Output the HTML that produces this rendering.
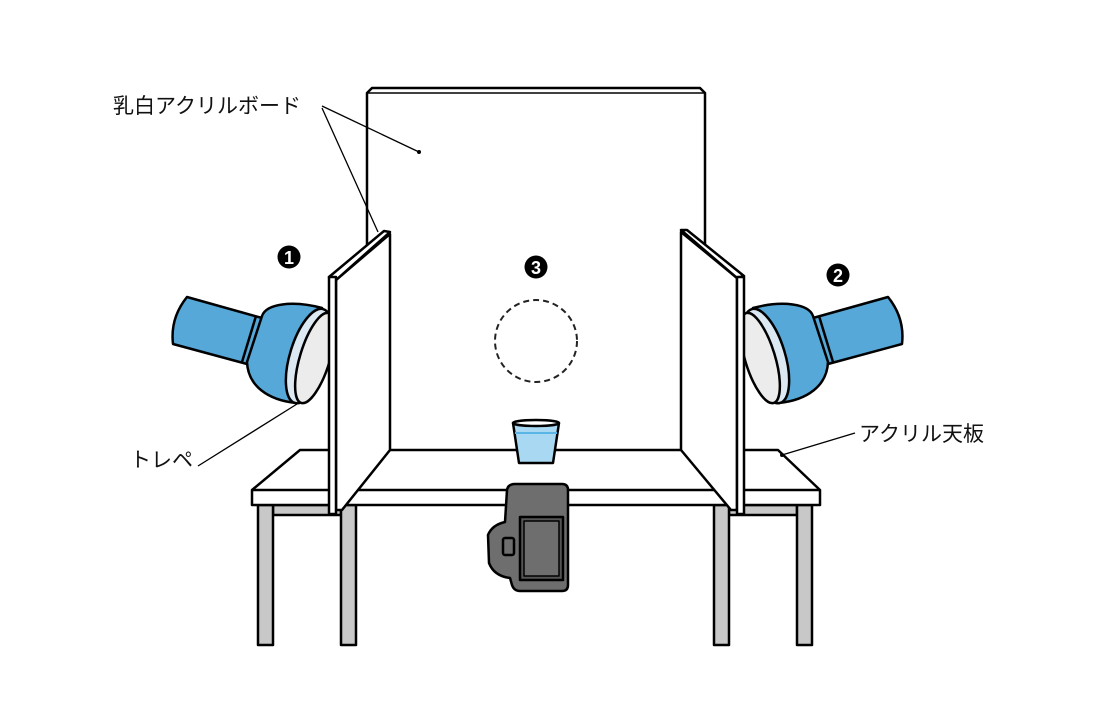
<!DOCTYPE html>
<html><head><meta charset="utf-8"><style>
html,body{margin:0;padding:0;background:#fff;}
svg{display:block;}
text{font-family:"Liberation Sans","Noto Sans CJK JP",sans-serif;font-size:21px;fill:#111;}
</style></head><body>
<svg width="1100" height="710" viewBox="0 0 1100 710" xmlns="http://www.w3.org/2000/svg">
<g stroke="#000" stroke-width="2.5" stroke-linejoin="round">
<rect x="273" y="505" width="68" height="10" fill="#c8c8c8"/>
<rect x="729" y="505" width="68" height="10" fill="#c8c8c8"/>
<rect x="258" y="505" width="15" height="140" fill="#c8c8c8"/>
<rect x="341" y="505" width="15" height="140" fill="#c8c8c8"/>
<rect x="714" y="505" width="15" height="140" fill="#c8c8c8"/>
<rect x="797" y="505" width="15" height="140" fill="#c8c8c8"/>
<path d="M367,450 L367,93 L372,88 L700,88 L705,93 L705,450" fill="#fff"/>
<line x1="367" y1="93" x2="705" y2="93" stroke-width="1.5"/>
<path d="M300,450 L778,450 L820,490 L820,505 L252,505 L252,490 Z" fill="#fff"/>
<line x1="252" y1="490" x2="820" y2="490"/>
<path d="M513,423 L559,423 L553,463 L519,463 Z" fill="#a9d8f2"/>
<path d="M515,433 L557,433" stroke="#5bb4e6" stroke-width="2"/>
<ellipse cx="536" cy="423" rx="23" ry="3" fill="#fff"/>
<path d="M507,490 Q508,484 515,484 L562,484 Q568,484 568,490 L568,585 Q568,591 562,591 L520,591 Q514,591 512,585 L510,578 Q494,576 489,563 L488,535 Q492,525 505,522 Z" fill="#6e6e6e"/>
<rect x="520" y="517" width="43" height="63" fill="#555"/>
<rect x="524" y="521" width="35" height="55" fill="#6e6e6e" stroke-width="1.5"/>
<rect x="503" y="538" width="11" height="17" rx="2" fill="#6e6e6e"/>
<g id="lamp">
<path d="M187,297 L262,318 L247,364 L173,344 Q170,318 187,297 Z" fill="#55a8d8"/>
<path d="M256,316 L242,362" />
<path d="M262,316 C266,304 292,300 322,308 L296,403 C268,400 248,386 247,362 Z" fill="#55a8d8"/>
<ellipse cx="309" cy="356" rx="19" ry="49" transform="rotate(17 309 356)" fill="#dce8f2"/>
<ellipse cx="315" cy="358" rx="15" ry="47" transform="rotate(17 315 358)" fill="#ececec"/>
</g>
<use href="#lamp" transform="translate(1075,0) scale(-1,1)"/>
<path d="M336,280 L390,234 L390,450 L342,510 L336,510 Z" fill="#fff"/>
<path d="M329,277 L384,231 L390,232 L336,280 Z" fill="#fff"/>
<rect x="329" y="277" width="7" height="237" fill="#fff"/>
<path d="M681,232 L737,278 L737,510 L731,510 L681,450 Z" fill="#fff"/>
<path d="M681,230 L687,230 L744,276 L737,278 Z" fill="#fff"/>
<rect x="737" y="277" width="7" height="237" fill="#fff"/>
</g>
<circle cx="536" cy="341" r="41" fill="none" stroke="#222" stroke-width="2" stroke-dasharray="6,4"/>
<g stroke="#000" stroke-width="1.3">
<line x1="322" y1="106" x2="419" y2="152"/>
<line x1="322" y1="108" x2="378" y2="232"/>
<line x1="198" y1="466" x2="297" y2="404"/>
<line x1="855" y1="433" x2="782" y2="455"/>
</g>
<circle cx="419" cy="152" r="2" fill="#000"/>
<circle cx="782" cy="455" r="2" fill="#000"/>
<g>
<circle cx="289" cy="257" r="11.5" fill="#000"/>
<text x="289" y="264" text-anchor="middle" style="fill:#fff;font-size:18px;font-weight:bold">1</text>
<circle cx="536" cy="267" r="11.5" fill="#000"/>
<text x="536" y="274" text-anchor="middle" style="fill:#fff;font-size:18px;font-weight:bold">3</text>
<circle cx="838" cy="275" r="11.5" fill="#000"/>
<text x="838" y="282" text-anchor="middle" style="fill:#fff;font-size:18px;font-weight:bold">2</text>
</g>
<text x="113" y="113">乳白アクリルボード</text>
<text x="130" y="467">トレペ</text>
<text x="859" y="441">アクリル天板</text>
</svg>
</body></html>
